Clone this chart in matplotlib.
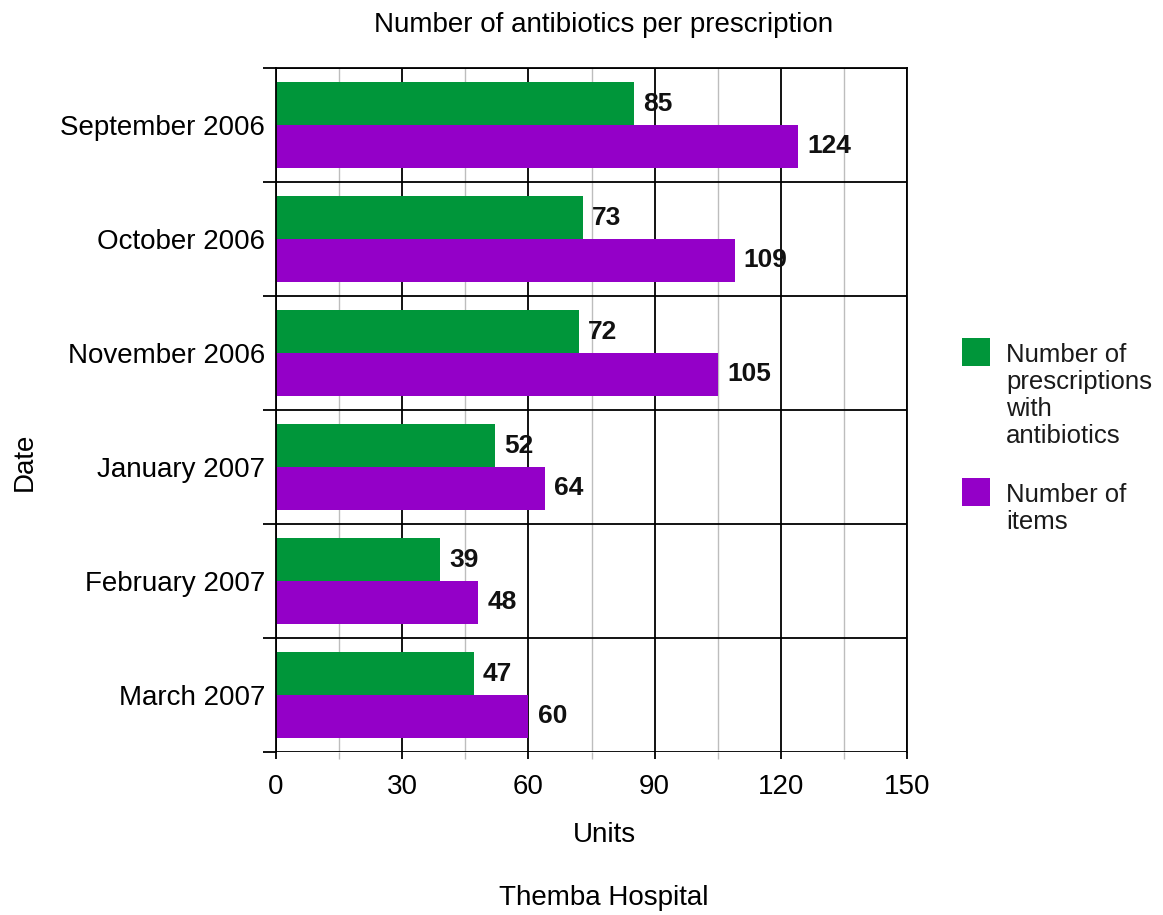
import matplotlib.pyplot as plt
from matplotlib.patches import Rectangle
from matplotlib.ticker import MultipleLocator, FixedLocator
import numpy as np

plt.rcParams['font.family'] = ['Liberation Sans', 'DejaVu Sans']

months = ['September 2006', 'October 2006', 'November 2006',
          'January 2007', 'February 2007', 'March 2007']
prescriptions = [85, 73, 72, 52, 39, 47]
items = [124, 109, 105, 64, 48, 60]

green = '#00963a'
purple = '#9400c8'

fig = plt.figure(figsize=(11.63, 9.15), dpi=100)
ax = fig.add_axes([276 / 1163, 1 - 752 / 915, 631 / 1163, 684 / 915])

y = np.arange(len(months))
h = 0.375
b1 = ax.barh(y - h / 2, prescriptions, height=h, color=green, zorder=3)
b2 = ax.barh(y + h / 2, items, height=h, color=purple, zorder=3)

for bars, vals in ((b1, prescriptions), (b2, items)):
    for bar, v in zip(bars, vals):
        ax.text(v + 2.2, bar.get_y() + bar.get_height() / 2, str(v),
                fontsize=19, fontweight='bold', va='center', ha='left',
                color='#111111', zorder=4)

ax.set_xlim(0, 150)
ax.set_ylim(len(months) - 0.5, -0.5)

# x axis: black major grid every 30, grey minor every 15
ax.xaxis.set_major_locator(MultipleLocator(30))
ax.xaxis.set_minor_locator(MultipleLocator(15))
ax.grid(axis='x', which='major', color='black', linewidth=1.3, zorder=1)
ax.grid(axis='x', which='minor', color='#bdbdbd', linewidth=1.0, zorder=1)
ax.tick_params(axis='x', which='major', length=5, width=1.3, pad=11,
               labelsize=20, color='black')
ax.tick_params(axis='x', which='minor', length=5, width=1.0, color='#bdbdbd')

# y axis: separator lines between months, labels at month centres
ax.yaxis.set_major_locator(FixedLocator(np.arange(len(months) + 1) - 0.5))
ax.yaxis.set_minor_locator(FixedLocator(y))
ax.yaxis.set_major_formatter(plt.NullFormatter())
ax.set_yticks(y, months, minor=True)
ax.grid(axis='y', which='major', color='black', linewidth=1.3, zorder=2)
ax.tick_params(axis='y', which='major', length=9.5, width=1.3, color='black')
ax.tick_params(axis='y', which='minor', length=0, pad=8, labelsize=20)

for side in ('top', 'bottom', 'left', 'right'):
    ax.spines[side].set_linewidth(1.3)
    ax.spines[side].set_zorder(5)
ax.spines['bottom'].set_visible(False)

fig.text(604 / 1163, 1 - 25 / 915, 'Number of antibiotics per prescription',
         ha='center', va='center', fontsize=20)
fig.text(604 / 1163, 1 - 835 / 915, 'Units', ha='center', va='center', fontsize=20)
fig.text(604 / 1163, 1 - 898 / 915, 'Themba Hospital', ha='center', va='center',
         fontsize=20)
fig.text(25 / 1163, 1 - 462 / 915, 'Date', ha='center', va='center',
         rotation=90, fontsize=20)

# legend
legend_rows = [
    (green, 'Number of\nprescriptions\nwith\nantibiotics', 338),
    (purple, 'Number of\nitems', 478),
]
for color, label, top in legend_rows:
    fig.patches.append(Rectangle((962 / 1163, 1 - (top + 28) / 915),
                                 28 / 1163, 28 / 915, facecolor=color,
                                 transform=fig.transFigure, figure=fig))
    fig.text(1006 / 1163, 1 - (top + 5) / 915, label, ha='left', va='top',
             fontsize=18.5, linespacing=1.16, color='#1a1a1a')

fig.savefig('out.png', dpi=100)
